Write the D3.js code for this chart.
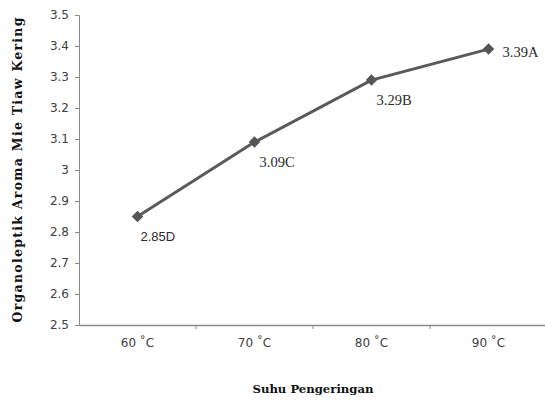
<!DOCTYPE html>
<html><head><meta charset="utf-8">
<script src="https://cdn.jsdelivr.net/npm/d3@7"></script>
<style>body{margin:0;background:#fff}svg{display:block}</style>
</head><body>
<svg id="c" width="545" height="400"></svg>
<script>
const categories = ["60 \u02daC", "70 \u02daC", "80 \u02daC", "90 \u02daC"];
const values = [2.85, 3.09, 3.29, 3.39];
const pointLabels = ["2.85D", "3.09C", "3.29B", "3.39A"];
const yTicks = [2.5, 2.6, 2.7, 2.8, 2.9, 3, 3.1, 3.2, 3.3, 3.4, 3.5];
const xTitle = "Suhu Pengeringan";
const yTitle = "Organoleptik Aroma Mie Tiaw Kering";

const svg = d3.select("#c");
const L = 79, R = 547, T = 15, B = 325;
const x = d3.scaleBand().domain(categories).range([L, R]);
const y = d3.scaleLinear().domain([2.5, 3.5]).range([B, T]);
const axisColor = "#8a8a8a";

// y axis
const ya = svg.append("g").attr("transform", `translate(${L},0)`)
  .call(d3.axisLeft(y).tickValues(yTicks).tickSize(4).tickFormat(d => d3.format("")(d)));
ya.select(".domain").attr("stroke", axisColor);
ya.selectAll(".tick line").attr("stroke", axisColor);
ya.selectAll("text").attr("font-family", "DejaVu Sans, Verdana, sans-serif").attr("font-size", 12).attr("fill", "#404040").attr("x", -10);

// x axis
const xa = svg.append("g").attr("transform", `translate(0,${B})`)
  .call(d3.axisBottom(x).tickSize(0).tickSizeOuter(0));
xa.select(".domain").attr("stroke", axisColor).attr("stroke-width", 1.3);
xa.selectAll("text").attr("font-family", "DejaVu Sans, Verdana, sans-serif").attr("font-size", 12).attr("fill", "#404040").attr("dy", "1.55em");
svg.append("g").selectAll("line").data(categories.slice(1)).join("line")
  .attr("x1", d => x(d)).attr("x2", d => x(d)).attr("y1", B).attr("y2", B + 4)
  .attr("stroke", axisColor);

// line
const cx = d => x(d) + x.bandwidth() / 2;
const data = categories.map((c, i) => ({c, v: values[i], l: pointLabels[i]}));
svg.append("path").datum(data)
  .attr("d", d3.line().x(d => cx(d.c)).y(d => y(d.v)))
  .attr("fill", "none").attr("stroke", "#5a5a5a").attr("stroke-width", 3);
svg.append("g").selectAll("path").data(data).join("path")
  .attr("d", d3.symbol(d3.symbolSquare, 66))
  .attr("transform", d => `translate(${cx(d.c)},${y(d.v)}) rotate(45)`)
  .attr("fill", "#555");

// labels
svg.append("g").selectAll("text").data(data).join("text")
  .attr("x", (d, i) => i === 3 ? cx(d.c) + 14 : cx(d.c) + (i === 0 ? 3 : 5))
  .attr("y", (d, i) => i === 3 ? y(d.v) + 8 : y(d.v) + (i === 0 ? 24 : 25))
  .attr("font-family", (d, i) => i === 0 ? "Liberation Sans, Arial, sans-serif" : "Liberation Serif, Times New Roman, serif")
  .attr("font-size", (d, i) => i === 0 ? 13 : 14.5)
  .attr("fill", "#2a2a2a").text(d => d.l);

// titles
svg.append("text").attr("x", 313).attr("y", 393).attr("text-anchor", "middle")
  .attr("font-family", "DejaVu Serif, serif").attr("font-weight", "bold").attr("font-size", 11.5)
  .attr("textLength", 121).attr("lengthAdjust", "spacingAndGlyphs")
  .attr("fill", "#111").text(xTitle);
svg.append("text").attr("transform", `translate(22,170) rotate(-90)`).attr("text-anchor", "middle")
  .attr("font-family", "DejaVu Serif, serif").attr("font-weight", "bold").attr("font-size", 12.5)
  .attr("textLength", 305).attr("lengthAdjust", "spacing")
  .attr("fill", "#111").text(yTitle);
</script>
</body></html>
